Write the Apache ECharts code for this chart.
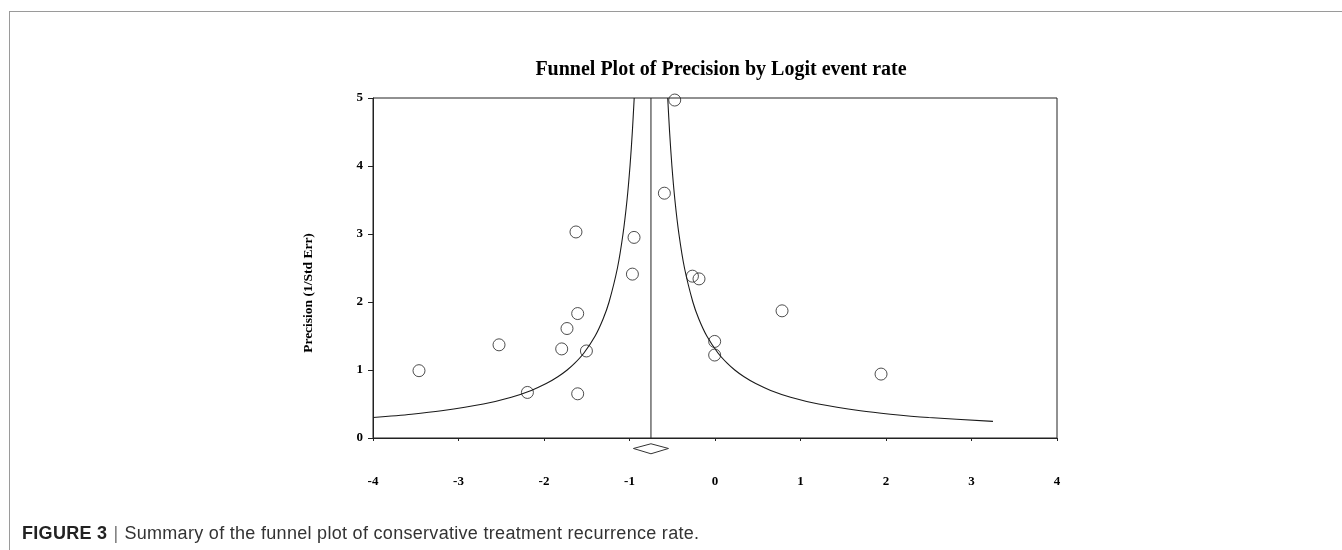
<!DOCTYPE html>
<html>
<head>
<meta charset="utf-8">
<script src="https://cdn.jsdelivr.net/npm/echarts@6/dist/echarts.min.js"></script>
<style>
  html, body { margin: 0; padding: 0; background: #fff; }
  #frame { position: absolute; left: 9px; top: 11px; right: 0; bottom: 0;
           border-top: 1px solid #9a9a9a; border-left: 1px solid #9a9a9a; }
  #chart { position: absolute; left: 0; top: 0; width: 1342px; height: 550px; }
  #caption { position: absolute; left: 22px; top: 523px; font-family: 'Liberation Sans', Arial, sans-serif;
             font-size: 18px; color: #333; letter-spacing: 0.3px; white-space: nowrap; }
  #caption b { color: #222; }
  #caption .sep { color: #777; padding: 0 6px; }
</style>
</head>
<body>
<div id="frame"></div>
<div id="chart"></div>
<div id="caption"><b>FIGURE 3</b><span class="sep">|</span>Summary of the funnel plot of conservative treatment recurrence rate.</div>
<script>
// studies: logit event rate vs precision (1/SE)
const studyLogit = [-1.626, -0.947, -0.966, -1.606, -1.731, -2.526, -1.793, -1.504, -3.462, -2.194,
                    -1.606, -0.264, -0.187, -0.004, -0.004, -0.471, -0.592, 0.784, 1.942]
const studyPrecision = [3.03, 2.95, 2.41, 1.83, 1.61, 1.37, 1.31, 1.28, 0.99, 0.67,
                        0.65, 2.38, 2.34, 1.42, 1.22, 4.97, 3.60, 1.87, 0.94]

// pooled estimate and its interval (diamond under the axis)
const pooledLogit = -0.749
const pooledLow = -0.954
const pooledHigh = -0.544

// funnel limits at a set of precision levels
const funnelPrecision = [5, 4.5, 4, 3.5, 3, 2.5, 2, 1.75, 1.5, 1.25, 1.1, 1, 0.9, 0.8, 0.7, 0.6, 0.5, 0.4, 0.35, 0.3016, 0.245]
const funnelLeft = [-0.945, -0.967, -0.994, -1.029, -1.076, -1.141, -1.239, -1.309, -1.402, -1.533, -1.640,
                    -1.729, -1.838, -1.974, -2.149, -2.382, -2.709, -3.199, -3.549, -4.0, null]
const funnelRight = [-0.553, -0.531, -0.504, -0.469, -0.422, -0.357, -0.259, -0.189, -0.096, 0.035, 0.142,
                     0.231, 0.340, 0.476, 0.651, 0.884, 1.211, 1.701, 2.051, 2.500, 3.251]

const xTicks = [-4, -3, -2, -1, 0, 1, 2, 3, 4]

const serif = "'Liberation Serif', 'Times New Roman', serif"

const chart = echarts.init(document.getElementById('chart'))

const pairs = (xs, ys) => xs.map((x, i) => [x, ys[i]]).filter(p => p[0] !== null)

chart.setOption({
  animation: false,
  title: {
    text: 'Funnel Plot of Precision by Logit event rate',
    left: 716,
    top: 55,
    textAlign: 'center',
    textStyle: { fontFamily: serif, fontSize: 20, fontWeight: 'bold', color: '#000' }
  },
  grid: {
    left: 373, top: 98, width: 684, height: 340,
    show: true, borderColor: '#222', borderWidth: 1, backgroundColor: 'transparent'
  },
  xAxis: {
    type: 'value', min: -4, max: 4, interval: 1,
    axisLine: { show: true, onZero: false, lineStyle: { color: '#222', width: 1 } },
    axisTick: { show: true, length: 3, lineStyle: { color: '#222' } },
    axisLabel: {
      margin: 37, fontFamily: serif, fontSize: 13, fontWeight: 'bold', color: '#000',
      formatter: v => xTicks.includes(v) ? String(v) : ''
    },
    splitLine: { show: false }
  },
  yAxis: {
    type: 'value', min: 0, max: 5, interval: 1,
    name: 'Precision (1/Std Err)',
    nameLocation: 'middle',
    nameGap: 57,
    nameRotate: 90,
    nameTextStyle: { fontFamily: serif, fontSize: 13.5, fontWeight: 'bold', color: '#000', padding: [0, 0, 0, -50] },
    axisLine: { show: true, onZero: false, lineStyle: { color: '#222', width: 1 } },
    axisTick: { show: true, length: 5, lineStyle: { color: '#222' } },
    axisLabel: { margin: 10, fontFamily: serif, fontSize: 13, fontWeight: 'bold', color: '#000' },
    splitLine: { show: false }
  },
  series: [
    {
      type: 'line', data: pairs(funnelLeft, funnelPrecision), smooth: 0.3, symbol: 'none',
      lineStyle: { color: '#1a1a1a', width: 1.1 }
    },
    {
      type: 'line', data: pairs(funnelRight, funnelPrecision), smooth: 0.3, symbol: 'none',
      lineStyle: { color: '#1a1a1a', width: 1.1 }
    },
    {
      type: 'line', data: [[pooledLogit, 0], [pooledLogit, 5]], symbol: 'none',
      lineStyle: { color: '#222', width: 1 }
    },
    {
      type: 'line', clip: false, symbol: 'none',
      data: [[pooledLow, -0.154], [pooledLogit, -0.085], [pooledHigh, -0.154], [pooledLogit, -0.232], [pooledLow, -0.154]],
      lineStyle: { color: '#333', width: 1 }
    },
    {
      type: 'scatter', data: pairs(studyLogit, studyPrecision), symbol: 'circle', symbolSize: 12,
      clip: false,
      itemStyle: { color: 'rgba(255,255,255,0)', borderColor: '#222', borderWidth: 1 }
    }
  ]
})
</script>
</body>
</html>
